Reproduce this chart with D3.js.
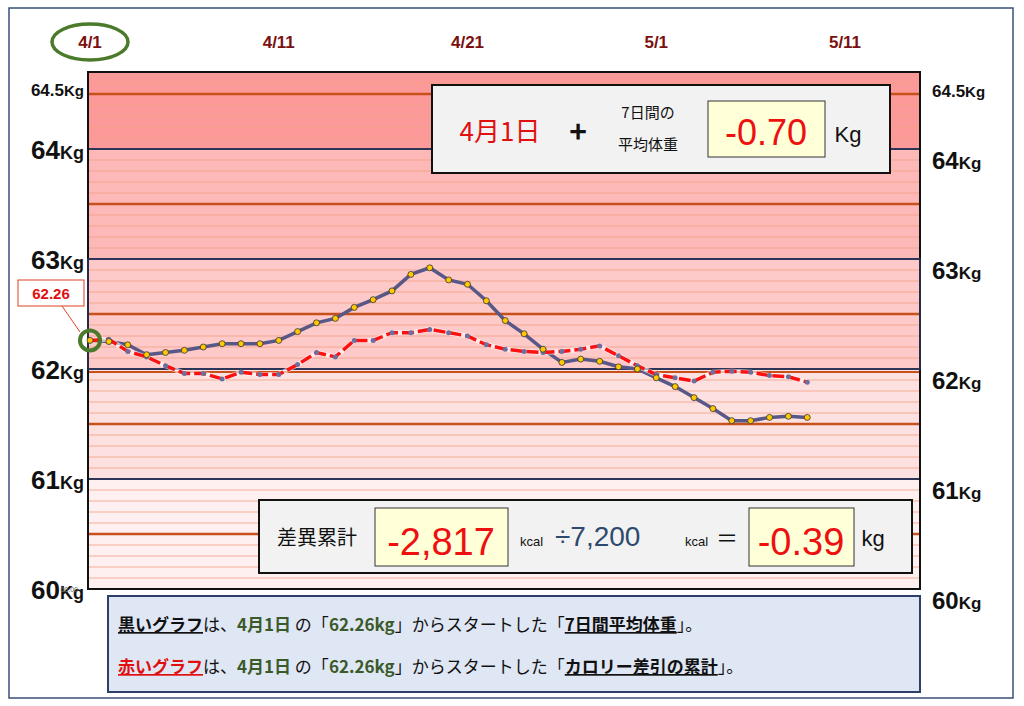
<!DOCTYPE html>
<html><head><meta charset="utf-8">
<script src="https://cdn.jsdelivr.net/npm/d3@7"></script>
<style>body{margin:0;background:#fff;font-family:"Noto Sans CJK JP","Noto Sans",sans-serif}</style>
</head><body><svg id="c" width="1024" height="706"></svg>
<script>
const dateTicks = ["4/1","4/11","4/21","5/1","5/11"];
const dateTickDays = [0,10,20,30,40];
const yTicks = [60,61,62,63,64];
const avgWeight = [62.26,62.25,62.22,62.13,62.15,62.17,62.20,62.23,62.23,62.23,62.26,62.34,62.42,62.46,62.56,62.63,62.71,62.86,62.92,62.81,62.77,62.62,62.44,62.32,62.18,62.06,62.09,62.07,62.02,62.00,61.92,61.84,61.74,61.64,61.53,61.53,61.56,61.57,61.56];
const calWeight = [62.26,62.27,62.16,62.11,62.03,61.96,61.96,61.91,61.97,61.95,61.95,62.04,62.15,62.11,62.26,62.26,62.33,62.33,62.36,62.33,62.30,62.22,62.18,62.16,62.15,62.16,62.18,62.21,62.12,62.03,61.95,61.92,61.89,61.97,61.98,61.97,61.94,61.93,61.88];
const bands = [[64,64.7,"#fc9a9a"],[63,64,"#fdb8b8"],[62,63,"#fdc9c9"],[61,62,"#fde0e0"],[60,61,"#fef0f0"]];

const svg = d3.select("#c");
const x = d3.scaleLinear().domain([0,40]).range([90,845]);
const y = d3.scaleLinear().domain([60,64.7]).range([589,72]);
const L=88,R=920;
const NUM="Liberation Sans,Arial";
svg.append("rect").attr("x",9).attr("y",8).attr("width",1004).attr("height",690).attr("fill","none").attr("stroke","#3a4f7a").attr("stroke-width",1.5);
bands.forEach(b=>svg.append("rect").attr("x",L).attr("width",R-L).attr("y",y(b[1])).attr("height",y(b[0])-y(b[1])).attr("fill",b[2]));
d3.range(601,647).map(v=>v/10).forEach(v=>{
  const major = Math.abs(v*2-Math.round(v*2))<1e-6;
  const whole = Math.abs(v-Math.round(v))<1e-6;
  if(whole) return;
  svg.append("line").attr("x1",L).attr("x2",R).attr("y1",y(v)).attr("y2",y(v))
   .attr("stroke",major?"#c8501a":"#f5a082").attr("stroke-width",major?2.5:1.2).attr("opacity",major?1:0.8);
});
yTicks.forEach(v=>svg.append("line").attr("x1",L).attr("x2",R).attr("y1",y(v)).attr("y2",y(v)).attr("stroke",v===60?"#111":"#2d3558").attr("stroke-width",v===62?2:1.8));
svg.append("line").attr("x1",L).attr("x2",R).attr("y1",y(62)+3).attr("y2",y(62)+3).attr("stroke","#c8501a").attr("stroke-width",2);
svg.append("rect").attr("x",L).attr("y",y(64.7)).attr("width",R-L).attr("height",y(60)-y(64.7)).attr("fill","none").attr("stroke","#111").attr("stroke-width",2);
svg.append("rect").attr("x",L).attr("y",y(63)).attr("width",R-L).attr("height",y(62)-y(63)).attr("fill","none").attr("stroke","#2d3558").attr("stroke-width",1.5);

const lab=(xx,yy,big,small,bs,ss,anchor)=>{const t=svg.append("text").attr("x",xx).attr("y",yy).attr("text-anchor",anchor).attr("font-family",NUM).attr("font-weight","bold").attr("fill","#111");
 t.append("tspan").attr("font-size",bs).text(big);t.append("tspan").attr("font-size",ss).text(small);};
yTicks.forEach(v=>{lab(84,y(v)+10,v,"Kg",26,18,"end");lab(932,y(v)+20,v,"Kg",24,17,"start");});
lab(84,y(64.5)+2,"64.5","Kg",17,15,"end");lab(932,y(64.5)+3,"64.5","Kg",17,15,"start");
svg.append("text").attr("x",78).attr("y",592).attr("text-anchor","end").attr("font-size",7).attr("fill","#666").attr("font-family",NUM).text("60.00");
dateTicks.forEach((d,i)=>svg.append("text").attr("x",x(dateTickDays[i])).attr("y",48).attr("text-anchor","middle").attr("font-family",NUM).attr("font-weight","bold").attr("font-size",17).attr("fill","#7a1010").text(d));
svg.append("ellipse").attr("cx",90).attr("cy",42).attr("rx",38).attr("ry",18).attr("fill","none").attr("stroke","#4a7a2a").attr("stroke-width",3.5);

const line=d3.line().x((d,i)=>x(i)).y(d=>y(d));
svg.append("path").datum(avgWeight).attr("d",line).attr("fill","none").attr("stroke","#585888").attr("stroke-width",3.5);
svg.append("path").datum(calWeight).attr("d",line).attr("fill","none").attr("stroke","#fff").attr("stroke-opacity",0.6).attr("stroke-width",5);
svg.append("path").datum(calWeight).attr("d",line).attr("fill","none").attr("stroke","#ff1010").attr("stroke-width",3.5).attr("stroke-dasharray","12,4");
svg.selectAll(".cp").data(calWeight).join("circle").attr("cx",(d,i)=>x(i)).attr("cy",d=>y(d)).attr("r",2.5).attr("fill","#6a70a0");
svg.selectAll(".ap").data(avgWeight).join("circle").attr("cx",(d,i)=>x(i)).attr("cy",d=>y(d)).attr("r",3).attr("fill","#ffc800").attr("stroke","#333").attr("stroke-width",0.8);
svg.append("circle").attr("cx",x(0)).attr("cy",y(62.26)).attr("r",10).attr("fill","none").attr("stroke","#4a7a2a").attr("stroke-width",4);
svg.append("path").attr("d","M80,332 L62,306").attr("stroke","#e04020").attr("fill","none");
svg.append("rect").attr("x",18).attr("y",280).attr("width",66).attr("height",26).attr("fill","#fff").attr("stroke","#e04020");
svg.append("text").attr("x",51).attr("y",299).attr("text-anchor","middle").attr("font-family",NUM).attr("font-weight","bold").attr("font-size",15).attr("fill","#e01010").text("62.26");

// top box
svg.append("rect").attr("x",432).attr("y",85).attr("width",458).attr("height",88).attr("fill","#f2f2f2").attr("stroke","#111").attr("stroke-width",2);
svg.append("text").attr("x",500).attr("y",141).attr("text-anchor","middle").attr("font-size",26).attr("fill","#e01010").text("4月1日");
svg.append("text").attr("x",578).attr("y",143).attr("text-anchor","middle").attr("font-size",30).attr("font-weight","bold").attr("fill","#111").text("+");
svg.append("text").attr("x",648).attr("y",118).attr("text-anchor","middle").attr("font-size",15).attr("fill","#111").text("7日間の");
svg.append("text").attr("x",648).attr("y",150).attr("text-anchor","middle").attr("font-size",15).attr("fill","#111").text("平均体重");
svg.append("rect").attr("x",708).attr("y",101).attr("width",117).attr("height",56).attr("fill","#ffffd8").attr("stroke","#333");
svg.append("text").attr("x",766).attr("y",145).attr("text-anchor","middle").attr("font-size",36).attr("fill","#ee1010").attr("font-family","Liberation Sans Narrow,Liberation Sans").text("-0.70");
svg.append("text").attr("x",848).attr("y",142).attr("text-anchor","middle").attr("font-size",22).attr("fill","#111").attr("font-family",NUM).text("Kg");

// bottom box
svg.append("rect").attr("x",259).attr("y",500).attr("width",653).attr("height",73).attr("fill","#f2f2f2").attr("stroke","#111").attr("stroke-width",2);
svg.append("text").attr("x",317).attr("y",545).attr("text-anchor","middle").attr("font-size",20).attr("fill","#111").text("差異累計");
svg.append("rect").attr("x",375).attr("y",508).attr("width",133).attr("height",58).attr("fill","#ffffd8").attr("stroke","#333");
svg.append("text").attr("x",441).attr("y",555).attr("text-anchor","middle").attr("font-size",38).attr("fill","#ee1010").attr("font-family","Liberation Sans Narrow,Liberation Sans").text("-2,817");
svg.append("text").attr("x",520).attr("y",546).attr("font-size",13).attr("fill","#111").attr("font-family",NUM).text("kcal");
svg.append("text").attr("x",555).attr("y",546).attr("font-size",28).attr("fill","#2d4a6e").attr("font-family",NUM).text("÷7,200");
svg.append("text").attr("x",685).attr("y",546).attr("font-size",13).attr("fill","#111").attr("font-family",NUM).text("kcal");
svg.append("text").attr("x",716).attr("y",546).attr("font-size",22).attr("fill","#111").text("＝");
svg.append("rect").attr("x",749).attr("y",508).attr("width",105).attr("height",58).attr("fill","#ffffd8").attr("stroke","#333");
svg.append("text").attr("x",801).attr("y",555).attr("text-anchor","middle").attr("font-size",38).attr("fill","#ee1010").attr("font-family","Liberation Sans Narrow,Liberation Sans").text("-0.39");
svg.append("text").attr("x",873).attr("y",546).attr("text-anchor","middle").attr("font-size",22).attr("fill","#111").attr("font-family",NUM).text("kg");

// caption box
svg.append("rect").attr("x",108).attr("y",596).attr("width",812).attr("height",96).attr("fill","#dfe6f4").attr("stroke","#2d3f6a").attr("stroke-width",2);
const cap=(yy,parts)=>{const t=svg.append("text").attr("x",118).attr("y",yy).attr("font-size",17).attr("fill","#111");
 parts.forEach(p=>{const s=t.append("tspan").text(p[0]);if(p[1])s.attr("fill",p[1]);if(p[2])s.attr("font-weight","bold");if(p[3])s.attr("text-decoration","underline");});};
cap(631,[["黒いグラフ","#111",1,1],["は、"],["4月1日","#3a5a2a",1],[" の「"],["62.26kg","#3a5a2a",1],["」からスタートした「"],["7日間平均体重","#111",1,1],["」。"]]);
cap(673,[["赤いグラフ","#e01010",1,1],["は、"],["4月1日","#3a5a2a",1],[" の「"],["62.26kg","#3a5a2a",1],["」からスタートした「"],["カロリー差引の累計","#111",1,1],["」。"]]);
</script></body></html>
